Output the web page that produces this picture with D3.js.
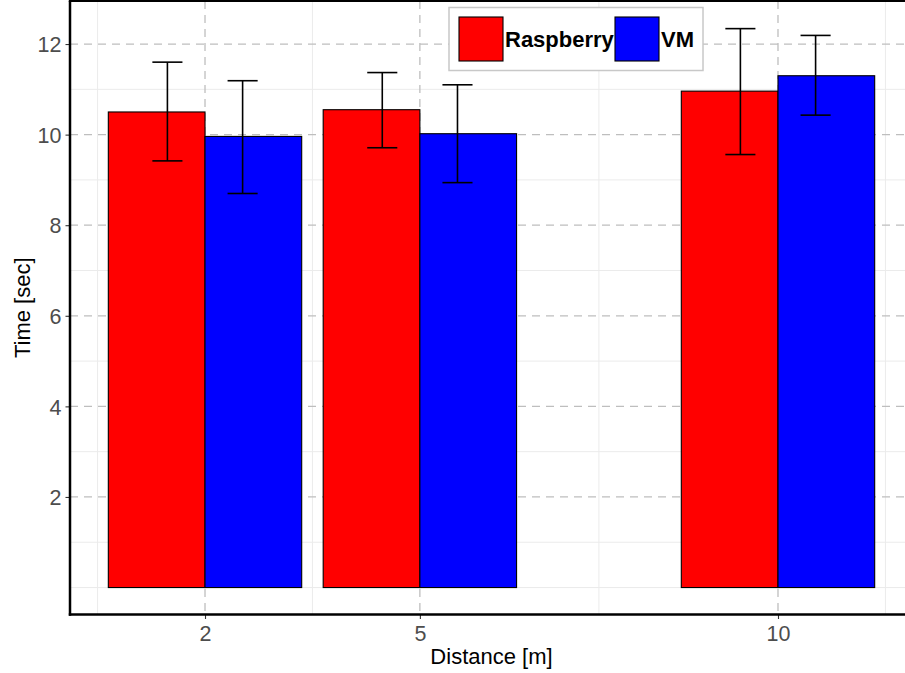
<!DOCTYPE html>
<html><head><meta charset="utf-8">
<script src="https://cdn.jsdelivr.net/npm/d3@7"></script>
<style>body{margin:0;background:#fff}svg{display:block;font-family:"Liberation Sans",Arial,sans-serif}</style>
</head><body>
<svg id="c" width="905" height="673"></svg>
<script>
const distances = [2, 5, 10];
const seriesNames = ["Raspberry", "VM"];
const seriesColors = ["#ff0000", "#0000ff"];
const raspberryMean = [10.50, 10.55, 10.96];
const raspberryLow  = [9.42, 9.71, 9.56];
const raspberryHigh = [11.60, 11.37, 12.34];
const vmMean = [9.96, 10.02, 11.30];
const vmLow  = [8.70, 8.94, 10.43];
const vmHigh = [11.19, 11.10, 12.19];
const yTicks = [2, 4, 6, 8, 10, 12];
const yMinor = [0, 1, 3, 5, 7, 9, 11];
const xMinor = [0.5, 3.5, 7.5, 11.5];

const svg = d3.select("#c");
const L = 70, R = 913, T = 1, B = 614.5;
const x = d3.scaleLinear().domain([0.115, 11.885]).range([L, R]);
const y = d3.scaleLinear().domain([-0.595, 12.95]).range([B, T]);
const barW = 1.35, errOff = 0.525, capW = 0.42;

const g = svg.append("g");
// minor grid
g.selectAll(".ym").data(yMinor).join("line").attr("x1", L).attr("x2", R)
  .attr("y1", d => y(d)).attr("y2", d => y(d)).attr("stroke", "#ebebeb").attr("stroke-width", 1);
g.selectAll(".xm").data(xMinor).join("line").attr("y1", T).attr("y2", B)
  .attr("x1", d => x(d)).attr("x2", d => x(d)).attr("stroke", "#ebebeb").attr("stroke-width", 1);
// major grid
g.selectAll(".yM").data(yTicks).join("line").attr("x1", L).attr("x2", R)
  .attr("y1", d => y(d)).attr("y2", d => y(d)).attr("stroke", "#bebebe").attr("stroke-width", 1.3).attr("stroke-dasharray", "8,6");
g.selectAll(".xM").data(distances).join("line").attr("y1", T).attr("y2", B)
  .attr("x1", d => x(d)).attr("x2", d => x(d)).attr("stroke", "#bebebe").attr("stroke-width", 1.3).attr("stroke-dasharray", "8,6");

const series = [
  {name: seriesNames[0], color: seriesColors[0], mean: raspberryMean, lo: raspberryLow, hi: raspberryHigh, side: -1},
  {name: seriesNames[1], color: seriesColors[1], mean: vmMean, lo: vmLow, hi: vmHigh, side: 1}
];
series.forEach(s => {
  const data = distances.map((d, i) => ({d, m: s.mean[i], lo: s.lo[i], hi: s.hi[i]}));
  g.selectAll(null).data(data).join("rect")
    .attr("x", d => s.side < 0 ? x(d.d - barW) : x(d.d))
    .attr("width", d => x(d.d + barW) - x(d.d))
    .attr("y", d => y(d.m)).attr("height", d => y(0) - y(d.m))
    .attr("fill", s.color).attr("stroke", "#000").attr("stroke-width", 1.1);
});
series.forEach(s => {
  const data = distances.map((d, i) => ({d, m: s.mean[i], lo: s.lo[i], hi: s.hi[i]}));
  const cx = d => d.d + s.side * errOff;
  const eg = g.append("g").attr("stroke", "#000").attr("stroke-width", 1.6);
  eg.selectAll(null).data(data).join("line").attr("x1", d => x(cx(d))).attr("x2", d => x(cx(d)))
    .attr("y1", d => y(d.lo)).attr("y2", d => y(d.hi));
  ["lo", "hi"].forEach(k => {
    eg.selectAll(null).data(data).join("line")
      .attr("x1", d => x(cx(d) - capW / 2)).attr("x2", d => x(cx(d) + capW / 2))
      .attr("y1", d => y(d[k])).attr("y2", d => y(d[k]));
  });
});

// axes
const yAxis = svg.append("g").attr("transform", `translate(${L},0)`)
  .call(d3.axisLeft(y).tickValues(yTicks).tickSize(4.5).tickPadding(4));
const xAxis = svg.append("g").attr("transform", `translate(0,${B})`)
  .call(d3.axisBottom(x).tickValues(distances).tickSize(4.5).tickPadding(3));
[yAxis, xAxis].forEach(a => {
  a.select(".domain").remove();
  a.selectAll("line").attr("stroke", "#333").attr("stroke-width", 1.1);
  a.selectAll("text").attr("fill", "#4d4d4d").style("font-size", "21.5px").style("font-family", "'Liberation Sans',Arial,sans-serif");
});
xAxis.selectAll("text").attr("dy", null).attr("y", 26.5);
yAxis.selectAll("text").attr("dy", "0.36em");

// panel border lines
svg.append("line").attr("x1", L).attr("x2", L).attr("y1", T).attr("y2", B + 1.2).attr("stroke", "#000").attr("stroke-width", 2.5);
svg.append("line").attr("x1", L - 1.2).attr("x2", R).attr("y1", B).attr("y2", B).attr("stroke", "#000").attr("stroke-width", 2.5);
svg.append("line").attr("x1", L - 1.2).attr("x2", R).attr("y1", T).attr("y2", T).attr("stroke", "#000").attr("stroke-width", 2);

// titles
svg.append("text").attr("x", x(6.0)).attr("y", 664).attr("text-anchor", "middle")
  .style("font-size", "22px").attr("fill", "#000").text("Distance [m]");
svg.append("text").attr("transform", `translate(30,${(T + B) / 2}) rotate(-90)`).attr("text-anchor", "middle")
  .style("font-size", "22px").attr("fill", "#000").text("Time [sec]");

// legend
const lg = svg.append("g");
lg.append("rect").attr("x", 449).attr("y", 7.5).attr("width", 254).attr("height", 63)
  .attr("fill", "#fff").attr("stroke", "#c8c8c8").attr("stroke-width", 1.5);
const keyX = [459, 615];
series.forEach((s, i) => {
  lg.append("rect").attr("x", keyX[i]).attr("y", 17).attr("width", 44).attr("height", 44)
    .attr("fill", s.color).attr("stroke", "#000").attr("stroke-width", 1.1);
  lg.append("text").attr("x", keyX[i] + 46).attr("y", 47).style("font-size", "22px").style("font-weight", "bold")
    .attr("fill", "#000").text(s.name);
});
</script>
</body></html>
